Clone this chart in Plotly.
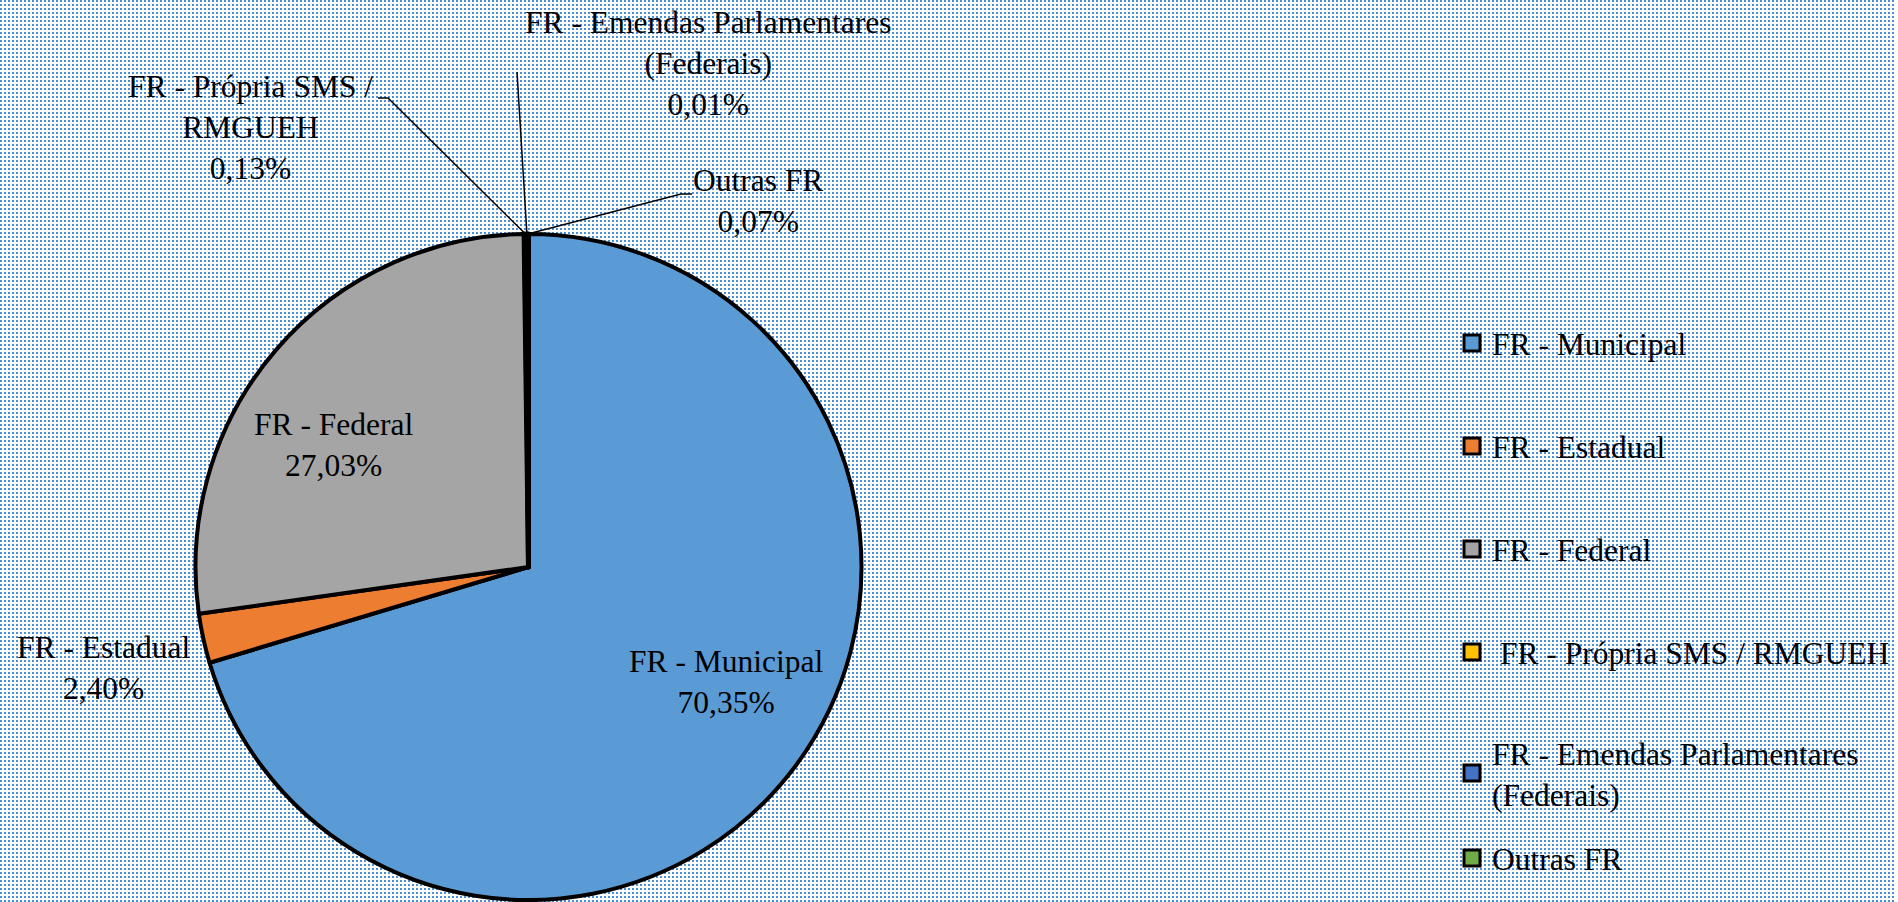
import base64
import math
import struct
import zlib

import plotly.graph_objects as go

W, H = 1898, 902

labels = ["FR - Municipal", "FR - Estadual", "FR - Federal", "FR - Própria SMS / RMGUEH",
          "FR - Emendas Parlamentares (Federais)", "Outras FR"]
values = [70.35, 2.40, 27.03, 0.13, 0.01, 0.07]
colors = ["#5B9BD5", "#ED7D31", "#A5A5A5", "#FFC000", "#4472C4", "#70AD47"]
# how the texts are wrapped on the chart and in the legend
slice_text = ["FR - Municipal", "FR - Estadual", "FR - Federal", "FR - Própria SMS /<br>RMGUEH",
              "FR - Emendas Parlamentares<br>(Federais)", "Outras FR"]
legend_text = ["FR - Municipal", "FR - Estadual", "FR - Federal", "\u00a0FR - Própria SMS / RMGUEH",
               "FR - Emendas Parlamentares<br>(Federais)", "Outras FR"]

FONT = "Liberation Serif"
FS = 31.5


def dotted_background(w, h, dot=(75, 143, 214)):
    # excel style dotted fill: 2x2 dots every 4 px
    white = bytes((255, 255, 255))
    d = bytes(dot)
    dot_row = b"\x00" + (d * 2 + white * 2) * (w // 4) + white * (w % 4)
    plain_row = b"\x00" + white * w
    raw = b"".join(dot_row if (y % 4) < 2 else plain_row for y in range(h))

    def chunk(tag, data):
        c = struct.pack(">I", len(data)) + tag + data
        return c + struct.pack(">I", zlib.crc32(tag + data) & 0xffffffff)

    png = b"\x89PNG\r\n\x1a\n" + chunk(b"IHDR", struct.pack(">IIBBBBB", w, h, 8, 2, 0, 0, 0))
    png += chunk(b"IDAT", zlib.compress(raw, 9)) + chunk(b"IEND", b"")
    return "data:image/png;base64," + base64.b64encode(png).decode()


# pie geometry in pixels
cx, cy, r = 528.5, 567, 333
dom_x = [(cx - r) / W, (cx + r) / W]
dom_y = [1 - (cy + r) / H, 1 - (cy - r) / H]


def px(x, y):
    return x / W, 1 - y / H


def edge_point(i):
    # point on the rim at the middle of slice i (clockwise from 12 o'clock)
    tot = sum(values)
    frac = (sum(values[:i]) + values[i] / 2) / tot
    a = 2 * math.pi * frac
    return cx + r * math.sin(a), cy - r * math.cos(a)


def pct(v):
    return f"{v:.2f}".replace(".", ",") + "%"


fig = go.Figure()
fig.add_trace(go.Pie(
    labels=labels, values=values,
    sort=False, direction="clockwise", rotation=0,
    # the tiny slices get a heavier outline, like the thick seam in the original
    marker=dict(colors=colors, line=dict(color="black", width=[4, 4, 4, 5, 5, 5])),
    textinfo="none",
    domain=dict(x=dom_x, y=dom_y),
    showlegend=False, hoverinfo="label+percent",
))

# legend: one dummy trace per entry, each in its own legend so the spacing can match
legend_y = [343, 446, 549, 652, 773, 858]
legends = {}
for i, name in enumerate(legend_text):
    key = "legend" if i == 0 else f"legend{i + 1}"
    fig.add_trace(go.Scatter(
        x=[None], y=[None], mode="markers", name=name, legend=key,
        marker=dict(symbol="square", size=18, color=colors[i], line=dict(color="black", width=3)),
    ))
    legends[key] = dict(x=1452 / W, xanchor="left", y=1 - legend_y[i] / H, yanchor="middle",
                        bgcolor="rgba(0,0,0,0)", font=dict(family=FONT, size=FS, color="black"))

# data labels
label_pos = {0: (726, 682), 1: (103, 668), 2: (333, 445), 3: (250, 128), 4: (708, 64), 5: (758, 201)}
annotations = []
for i, (lx, ly) in label_pos.items():
    x, y = px(lx, ly)
    annotations.append(dict(x=x, y=y, xref="paper", yref="paper", showarrow=False,
                            xanchor="center", yanchor="middle",
                            text=f"{slice_text[i]}<br>{pct(values[i])}", align="center",
                            font=dict(family=FONT, size=FS, color="black")))

# leader lines from the rim to the labels
leader_pts = {3: [(378, 98), (388, 98)], 4: [(517, 72)], 5: [(692, 194), (681, 194)]}
shapes = []
for i, pts in leader_pts.items():
    ex, ey = edge_point(i)
    path = [px(a, b) for a, b in pts] + [px(ex, ey)]
    d = "M " + " L ".join(f"{a:.5f},{b:.5f}" for a, b in path)
    shapes.append(dict(type="path", path=d, xref="paper", yref="paper",
                       line=dict(color="black", width=1.5)))

fig.update_layout(
    width=W, height=H,
    margin=dict(l=0, r=0, t=0, b=0),
    paper_bgcolor="white", plot_bgcolor="rgba(0,0,0,0)",
    xaxis=dict(visible=False), yaxis=dict(visible=False),
    images=[dict(source=dotted_background(W, H), xref="paper", yref="paper", x=0, y=1,
                 sizex=1, sizey=1, sizing="stretch", xanchor="left", yanchor="top", layer="below")],
    annotations=annotations, shapes=shapes,
    **legends,
)

fig.write_html("out.html", config={"displayModeBar": False},
               post_script="document.body.style.margin='0';document.body.style.overflow='hidden';")
